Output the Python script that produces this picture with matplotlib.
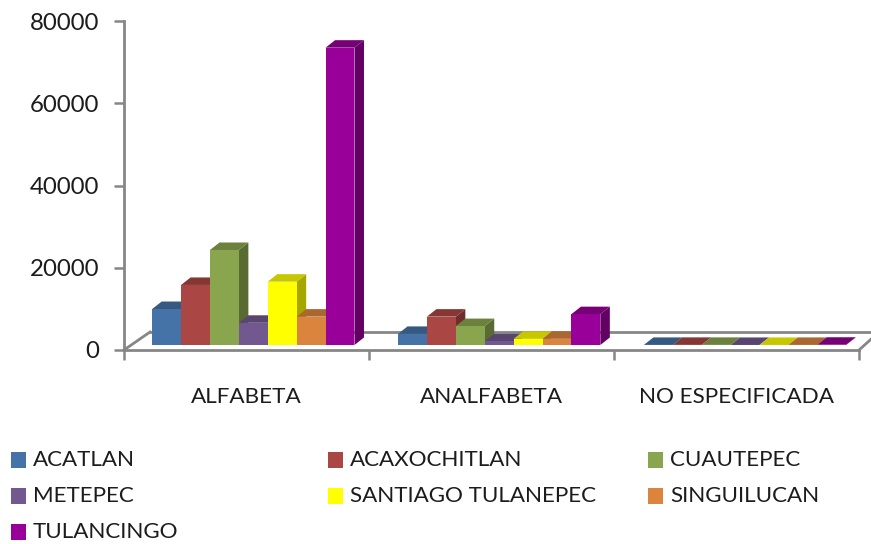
import matplotlib
matplotlib.use('Agg')
import matplotlib.pyplot as plt
from matplotlib.patches import Polygon, Rectangle
from matplotlib.colors import to_rgb

categories = ['ALFABETA', 'ANALFABETA', 'NO ESPECIFICADA']
municipios = ['ACATLAN', 'ACAXOCHITLAN', 'CUAUTEPEC', 'METEPEC',
              'SANTIAGO TULANEPEC', 'SINGUILUCAN', 'TULANCINGO']
acatlan = [8750, 2700, 20]
acaxochitlan = [14600, 6900, 30]
cuautepec = [23100, 4600, 30]
metepec = [5400, 900, 10]
santiago = [15400, 1500, 10]
singuilucan = [6900, 1500, 20]
tulancingo = [72300, 7500, 60]
series = [acatlan, acaxochitlan, cuautepec, metepec, santiago, singuilucan, tulancingo]
colors = ['#4572A7', '#AA4643', '#89A54E', '#71588F', '#FFFF00', '#DB843D', '#990099']
yticks = [0, 20000, 40000, 60000, 80000]

W, H = 871, 544
plt.rcParams['font.family'] = ['Lato', 'DejaVu Sans']
GRAY = '#868686'
TXT = '#1c1c1c'

fig = plt.figure(figsize=(W / 100, H / 100), dpi=100)
ax = fig.add_axes([124 / W, 1 - 350 / H, (859 - 124) / W, (350 - 21) / H])
ax.set_xlim(0, 3)
ax.set_ylim(0, 80000)
for s in ['top', 'right']:
    ax.spines[s].set_visible(False)
for s in ['left', 'bottom']:
    ax.spines[s].set_color(GRAY)
    ax.spines[s].set_linewidth(2)

ax.set_yticks(yticks)
ax.tick_params(axis='y', length=7, width=1.8, color=GRAY, labelsize=17.3, labelcolor=TXT, pad=11)
ax.set_xticks([0, 1, 2, 3])
ax.set_xticklabels([])
ax.tick_params(axis='x', length=7, width=1.8, color=GRAY)

# pixel sizes turned into data units
px_x = 3 / (859 - 124)
px_y = 80000 / (350 - 21)
depth_x = 9.5 * px_x
depth_y = 7.5 * px_y
base = 5 * px_y
bar_w = 28.9 * px_x

# floor: back edge and the two slanted sides
back_x = 26 * px_x
back_y = 18 * px_y
ax.plot([0, back_x], [0, back_y], color=GRAY, lw=2, clip_on=False)
ax.plot([back_x, 3 + 12 * px_x], [back_y, back_y], color=GRAY, lw=2, clip_on=False, zorder=1)
ax.plot([3, 3 + 12 * px_x], [0, back_y * 0.6], color=GRAY, lw=2, clip_on=False)


def shade(col, f):
    return tuple(c * f for c in to_rgb(col))


for g in range(len(categories)):
    left = g + 0.115 + 0.0035 * g
    for k, vals in enumerate(series):
        x0 = left + k * bar_w
        x1 = x0 + bar_w
        top = base + vals[g]
        ax.add_patch(Polygon([(x1, base), (x1 + depth_x, base + depth_y),
                              (x1 + depth_x, top + depth_y), (x1, top)],
                             fc=shade(colors[k], 0.65), ec='none', clip_on=False, zorder=3))
        ax.add_patch(Polygon([(x0, top), (x1, top), (x1 + depth_x, top + depth_y),
                              (x0 + depth_x, top + depth_y)],
                             fc=shade(colors[k], 0.78), ec='none', clip_on=False, zorder=3))
        ax.add_patch(Rectangle((x0, base), bar_w, vals[g], fc=colors[k], ec='none',
                               clip_on=False, zorder=3))

for g, name in enumerate(categories):
    ax.text(g + 0.5, -47 * px_y, name, ha='center', va='center', fontsize=16.2, color=TXT)

# legend placed by hand in three columns
col_x = [11, 328, 648]
row_y = [460, 496, 532]
for k, name in enumerate(municipios):
    x = col_x[k % 3]
    y = row_y[k // 3]
    fig.add_artist(Rectangle((x / W, 1 - (y + 8) / H), 15 / W, 16 / H, fc=colors[k], ec='none',
                             transform=fig.transFigure))
    fig.text((x + 22) / W, 1 - y / H, name, ha='left', va='center', fontsize=16.1, color=TXT)

fig.savefig('out.png', dpi=100)
